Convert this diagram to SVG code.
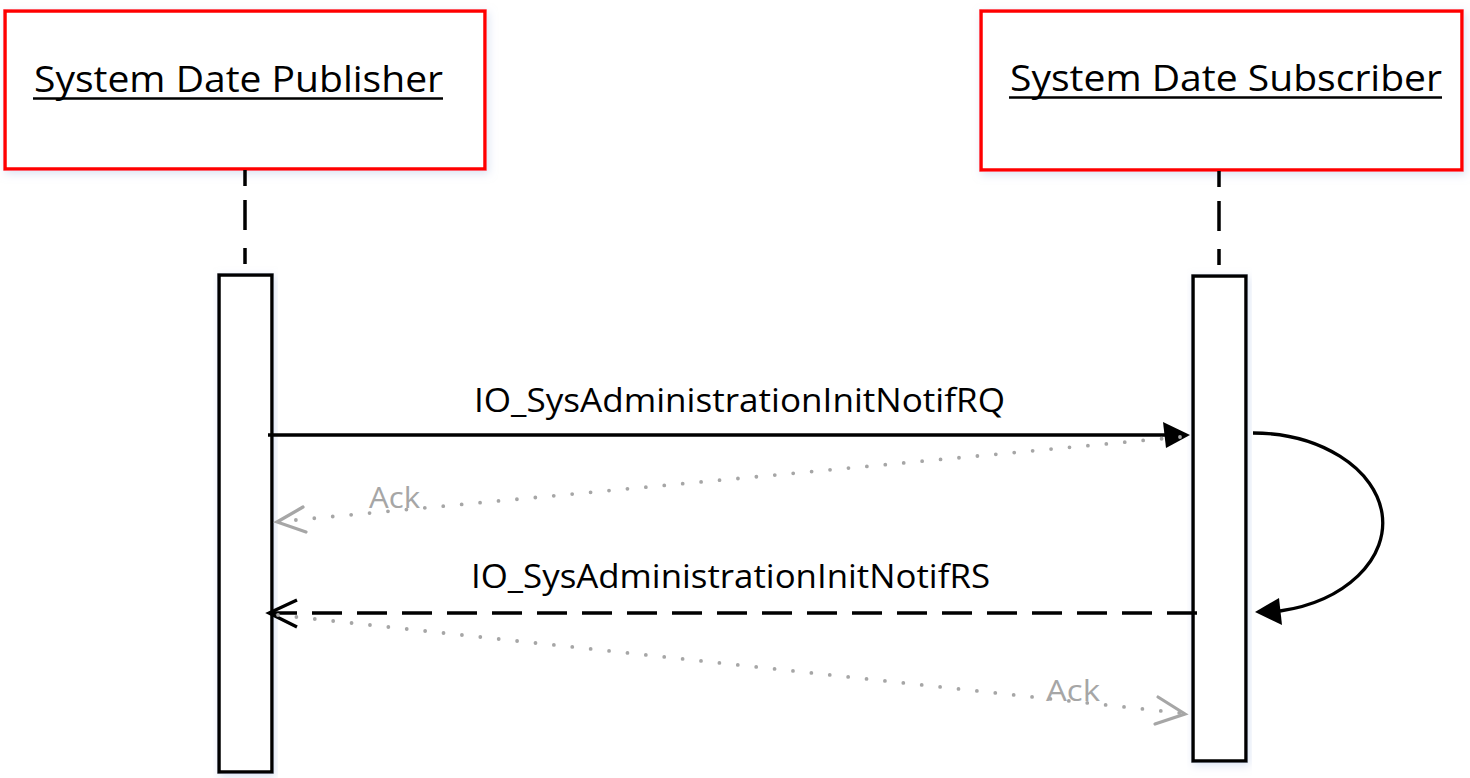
<svg xmlns="http://www.w3.org/2000/svg" width="1470" height="778" viewBox="0 0 1470 778">
<style>
.obj{fill:#ffffff;stroke:#ff0000;stroke-width:3.5}
.act{fill:#ffffff;stroke:#000000;stroke-width:3.5}
.life{stroke:#000;stroke-width:3.5;stroke-dasharray:16 14 30 18}
.title{font-family:"Open Sans","Noto Sans",sans-serif;font-size:37px;fill:#000}
.ul{stroke:#000;stroke-width:2.5}
.lbl{font-family:"Open Sans","Noto Sans",sans-serif;font-size:33px;fill:#000}
.ack{font-family:"Open Sans","Noto Sans",sans-serif;font-size:29px;fill:#a6a6a6}
.dot{stroke:#a6a6a6;stroke-width:3.8;stroke-linecap:round;stroke-dasharray:0 18.5;fill:none}
.grayhead{stroke:#a6a6a6;stroke-width:3.2;fill:none;stroke-linecap:round}
.blk{stroke:#000;stroke-width:3.3;fill:none}
</style>
<defs>
<filter id="sh" x="-10%" y="-10%" width="120%" height="120%">
<feDropShadow dx="2" dy="3" stdDeviation="4" flood-color="#b8c8e8" flood-opacity="0.5"/>
</filter>
</defs>
<g id="publisher">
<rect class="obj" x="5" y="11" width="480" height="158" filter="url(#sh)"/>
<text class="title" x="34" y="92" textLength="409" lengthAdjust="spacingAndGlyphs">System Date Publisher</text>
<line class="ul" x1="33" y1="98.5" x2="443" y2="98.5"/>
<line class="life" x1="245" y1="170" x2="245" y2="274"/>
<rect class="act" x="219" y="275" width="53" height="497" filter="url(#sh)"/>
</g>
<g id="subscriber">
<rect class="obj" x="981" y="11" width="481" height="159" filter="url(#sh)"/>
<text class="title" x="1010" y="91" textLength="432" lengthAdjust="spacingAndGlyphs">System Date Subscriber</text>
<line class="ul" x1="1009" y1="97.5" x2="1442" y2="97.5"/>
<line class="life" x1="1219" y1="171" x2="1219" y2="276"/>
<rect class="act" x="1193" y="276" width="53" height="485" filter="url(#sh)"/>
</g>
<g id="connectors">
<line class="blk" x1="268" y1="435" x2="1165" y2="435"/>
<polygon points="1190,435 1163,422 1166,448" fill="#000"/>
<text class="lbl" x="474" y="412" textLength="531" lengthAdjust="spacingAndGlyphs">IO_SysAdministrationInitNotifRQ</text>
<line class="dot" x1="1180" y1="437" x2="285" y2="521"/>
<polyline class="grayhead" points="303,507 277,522 306,532"/>
<text class="ack" x="369" y="508" textLength="51" lengthAdjust="spacingAndGlyphs">Ack</text>
<path class="blk" d="M1253,433 A130,90 0 0 1 1280,611"/>
<polygon points="1255,612 1279,598 1282,625" fill="#000"/>
<line class="blk" x1="1197" y1="613" x2="270" y2="613" stroke-dasharray="30 15"/>
<polyline class="blk" points="297,600 269,613 297,627"/>
<text class="lbl" x="471" y="588" textLength="519" lengthAdjust="spacingAndGlyphs">IO_SysAdministrationInitNotifRS</text>
<line class="dot" x1="278" y1="615" x2="1180" y2="713"/>
<polyline class="grayhead" points="1158,697 1185,714 1155,724"/>
<text class="ack" x="1046" y="701" textLength="54" lengthAdjust="spacingAndGlyphs">Ack</text>
</g>
</svg>
